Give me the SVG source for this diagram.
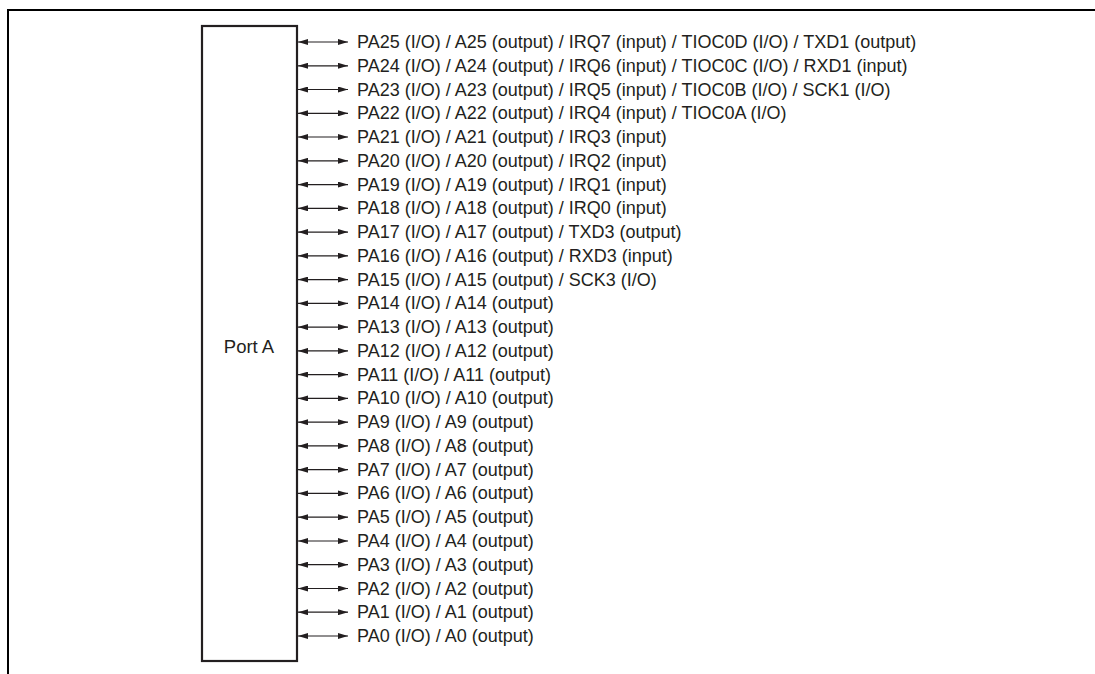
<svg xmlns="http://www.w3.org/2000/svg" width="1095" height="674" viewBox="0 0 1095 674">
<style>
.frame{fill:none;stroke:#000;stroke-width:2}
.box{fill:#fff;stroke:#231f20;stroke-width:2.2}
.c{stroke:#231f20;stroke-width:1.2;fill:none;marker-start:url(#ah);marker-end:url(#ah)}
text{font-family:"Liberation Sans",Arial,sans-serif;font-size:18px;fill:#231f20}
.big{font-size:18.5px}
</style>
<defs>
<marker id="ah" viewBox="0 0 10 6" refX="10" refY="3" markerWidth="10" markerHeight="6" markerUnits="userSpaceOnUse" orient="auto-start-reverse">
<path d="M0,0 L10,3 L0,6 z" fill="#231f20"/>
</marker>
</defs>
<rect width="1095" height="674" fill="#fff"/>
<path class="frame" d="M8,674 V10 H1095"/>
<g id="portA">
<rect class="box" x="202" y="26" width="95" height="635"/>
<text class="big" x="249" y="353" text-anchor="middle">Port A</text>
</g>
<g id="connectors">
<line class="c" x1="298" y1="42" x2="348" y2="42"/>
<line class="c" x1="298" y1="65.8" x2="348" y2="65.8"/>
<line class="c" x1="298" y1="89.5" x2="348" y2="89.5"/>
<line class="c" x1="298" y1="113.3" x2="348" y2="113.3"/>
<line class="c" x1="298" y1="137" x2="348" y2="137"/>
<line class="c" x1="298" y1="160.8" x2="348" y2="160.8"/>
<line class="c" x1="298" y1="184.6" x2="348" y2="184.6"/>
<line class="c" x1="298" y1="208.3" x2="348" y2="208.3"/>
<line class="c" x1="298" y1="232.1" x2="348" y2="232.1"/>
<line class="c" x1="298" y1="255.8" x2="348" y2="255.8"/>
<line class="c" x1="298" y1="279.6" x2="348" y2="279.6"/>
<line class="c" x1="298" y1="303.4" x2="348" y2="303.4"/>
<line class="c" x1="298" y1="327.1" x2="348" y2="327.1"/>
<line class="c" x1="298" y1="350.9" x2="348" y2="350.9"/>
<line class="c" x1="298" y1="374.6" x2="348" y2="374.6"/>
<line class="c" x1="298" y1="398.4" x2="348" y2="398.4"/>
<line class="c" x1="298" y1="422.2" x2="348" y2="422.2"/>
<line class="c" x1="298" y1="445.9" x2="348" y2="445.9"/>
<line class="c" x1="298" y1="469.7" x2="348" y2="469.7"/>
<line class="c" x1="298" y1="493.4" x2="348" y2="493.4"/>
<line class="c" x1="298" y1="517.2" x2="348" y2="517.2"/>
<line class="c" x1="298" y1="541" x2="348" y2="541"/>
<line class="c" x1="298" y1="564.7" x2="348" y2="564.7"/>
<line class="c" x1="298" y1="588.5" x2="348" y2="588.5"/>
<line class="c" x1="298" y1="612.2" x2="348" y2="612.2"/>
<line class="c" x1="298" y1="636" x2="348" y2="636"/>
</g>
<g id="labels">
<text x="357" y="48">PA25 (I/O) / A25 (output) / IRQ7 (input) / TIOC0D (I/O) / TXD1 (output)</text>
<text x="357" y="71.8">PA24 (I/O) / A24 (output) / IRQ6 (input) / TIOC0C (I/O) / RXD1 (input)</text>
<text x="357" y="95.5">PA23 (I/O) / A23 (output) / IRQ5 (input) / TIOC0B (I/O) / SCK1 (I/O)</text>
<text x="357" y="119.3">PA22 (I/O) / A22 (output) / IRQ4 (input) / TIOC0A (I/O)</text>
<text x="357" y="143">PA21 (I/O) / A21 (output) / IRQ3 (input)</text>
<text x="357" y="166.8">PA20 (I/O) / A20 (output) / IRQ2 (input)</text>
<text x="357" y="190.6">PA19 (I/O) / A19 (output) / IRQ1 (input)</text>
<text x="357" y="214.3">PA18 (I/O) / A18 (output) / IRQ0 (input)</text>
<text x="357" y="238.1">PA17 (I/O) / A17 (output) / TXD3 (output)</text>
<text x="357" y="261.8">PA16 (I/O) / A16 (output) / RXD3 (input)</text>
<text x="357" y="285.6">PA15 (I/O) / A15 (output) / SCK3 (I/O)</text>
<text x="357" y="309.4">PA14 (I/O) / A14 (output)</text>
<text x="357" y="333.1">PA13 (I/O) / A13 (output)</text>
<text x="357" y="356.9">PA12 (I/O) / A12 (output)</text>
<text x="357" y="380.6">PA11 (I/O) / A11 (output)</text>
<text x="357" y="404.4">PA10 (I/O) / A10 (output)</text>
<text x="357" y="428.2">PA9 (I/O) / A9 (output)</text>
<text x="357" y="451.9">PA8 (I/O) / A8 (output)</text>
<text x="357" y="475.7">PA7 (I/O) / A7 (output)</text>
<text x="357" y="499.4">PA6 (I/O) / A6 (output)</text>
<text x="357" y="523.2">PA5 (I/O) / A5 (output)</text>
<text x="357" y="547">PA4 (I/O) / A4 (output)</text>
<text x="357" y="570.7">PA3 (I/O) / A3 (output)</text>
<text x="357" y="594.5">PA2 (I/O) / A2 (output)</text>
<text x="357" y="618.2">PA1 (I/O) / A1 (output)</text>
<text x="357" y="642">PA0 (I/O) / A0 (output)</text>
</g>
</svg>
